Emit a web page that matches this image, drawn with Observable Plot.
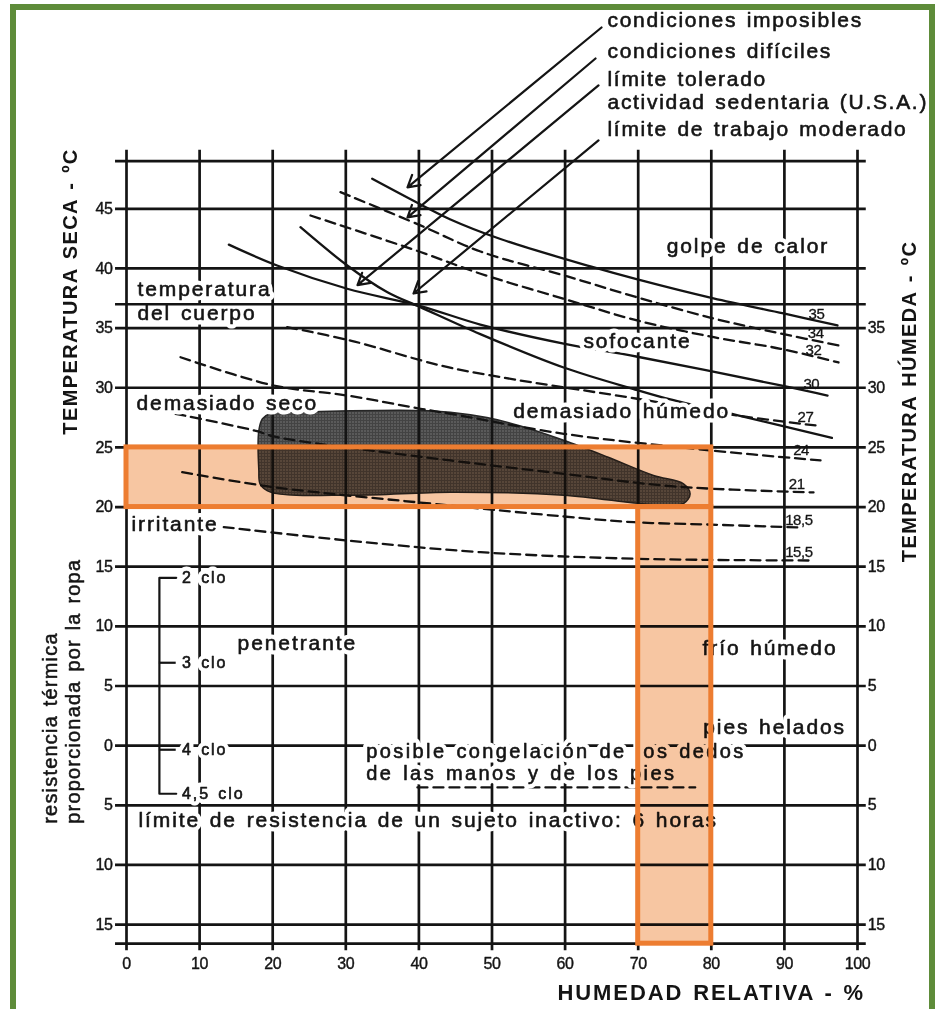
<!DOCTYPE html>
<html><head><meta charset="utf-8">
<script src="https://cdn.jsdelivr.net/npm/d3@7"></script>
<script src="https://cdn.jsdelivr.net/npm/@observablehq/plot@0.6"></script>
<style>
html,body{margin:0;padding:0;background:#fff;overflow:hidden;}
#wrap{position:relative;width:937px;height:1009px;overflow:hidden;}
#frame{position:absolute;left:10px;top:4px;width:925px;height:1100px;border:6px solid #5e8c3a;box-sizing:border-box;pointer-events:none;}
</style></head><body><div id="wrap"><div id="chart"></div><div id="frame"></div></div>
<script>
// ---- axes / grid ----
const rhTicks = [0,10,20,30,40,50,60,70,80,90,100];
const tempGrid = [45,40,35,30,25,20,15,10,5,0,-5,-10,-15];
const frameY = [49,-16.6];
const bodyTemp = [37];
const leftTicks = [45,40,35,30,25,20,15,10,5,0,-5,-10,-15];
const rightTicks = [35,30,25,20,15,10,5,0,-5,-10,-15];

// ---- solid limit curves [RH %, dry temp ºC] ----
const limitA = [[33.61,47.52],[40.22,45.37],[44.32,44.11],[51.16,42.47],[63.47,40.17],[69.90,39.08],[80.30,37.49],[89.88,36.23],[97.26,35.22]];
const limitB = [[23.8,43.46],[30.2,40.25],[35.7,38.0],[40.2,36.76],[48.4,34.5],[59.8,31.7],[69.9,29.8],[74.4,29.02],[83.5,27.7],[96.5,25.8]];
const limitC = [[14.0,42.0],[20.6,40.25],[30.2,38.3],[40.2,36.85],[48.4,35.3],[59.8,33.7],[69.9,32.6],[89.5,30.2],[95.9,29.35]];

// ---- dashed wet-bulb curves ----
const wetA = [[29.27,46.40],[40.22,43.61],[48.43,41.42],[60.33,39.33],[69.90,37.57],[80.30,35.81],[89.47,34.55],[98.09,33.46]];
const wetB = [[25.17,44.44],[40.22,41.38],[48.43,39.56],[59.82,37.46],[69.86,35.64],[80.34,34.24],[89.47,33.27],[97.40,32.12]];
const wet27 = [[21.98,35.08],[30.64,33.96],[42.95,31.87],[51.16,30.89],[69.86,29.08],[83.45,27.68],[94.25,26.84]];
const wet24 = [[7.39,32.56],[20.15,30.19],[30.19,29.35],[40.22,28.24],[44.32,27.82],[59.82,26.14],[79.89,24.75],[94.94,23.91]];
const wet21 = [[6.70,27.82],[17.88,26.36],[20.11,25.92],[44.32,23.91],[59.82,22.79],[74.87,21.73],[93.98,21.23]];
const wet185 = [[7.62,22.93],[20.15,21.67],[44.32,20.13],[59.82,19.21],[69.40,18.73],[79.44,18.54],[92.20,18.29]];
const wet155 = [[13.31,18.32],[30.19,17.20],[48.43,16.22],[69.40,15.67],[93.98,15.52]];
const wetLabel = ["35","34","32","30","27","24","21","18,5","15,5"];
const wetLabelX = [93.3,93.2,92.9,92.6,91.8,91.2,90.6,90.1,90.1];
const wetLabelY = [36.14,34.55,33.13,30.28,27.5,24.75,21.9,18.88,16.2];

// ---- comfort zone outline ----
const comfort = [[18.1,26.4],[18.6,27.4],[19.7,27.85],[23.8,27.95],[27.9,28.04],[40.2,28.1],[44.3,27.95],[49.3,27.5],[53.9,26.8],[59.8,25.6],[65.8,24.2],[72.1,22.65],[76.2,21.95],[77.1,21.1],[76.2,20.3],[72.1,20.2],[59.8,21.0],[44.3,21.25],[31.1,21.0],[19.7,21.25],[18.3,21.9],[18.1,23.1]];

// ---- highlighted band (orange) ----
const bandX1 = [0,70], bandX2 = [80,80], bandY1 = [20,-16.6], bandY2 = [25,20];

// ---- clothing resistance scale ----
const cloText = ["2 clo","3 clo","4 clo","4,5 clo"];
const cloY = [14.07,6.95,-0.34,-4.03];
const cloX = 4.5;

// ---- freezing limit dashed line ----
const freezeLine = [[39.8,-3.5],[77.8,-3.5]];

// ---- zone labels ----
const zoneText = ["golpe de calor","temperatura","del cuerpo","sofocante","demasiado seco","demasiado húmedo","irritante","penetrante","frío húmedo","pies helados","límite de resistencia de un sujeto inactivo: 6 horas"];
const zoneX = [73.9,1.5,1.5,62.5,1.37,52.9,0.68,15.2,78.8,78.9,1.64];
const zoneY = [41.84,38.24,36.23,33.88,28.68,28.0,18.6,8.57,8.15,1.53,-6.27];
const freezeText = ["posible congelación de los dedos","de las manos y de los pies"];
const freezeTextX = 32.8;
const freezeTextY = [-0.5,-2.35];

// ---- top notes with leader arrows ----
const noteText = ["condiciones imposibles","condiciones difíciles","límite tolerado","actividad sedentaria (U.S.A.)","límite de trabajo moderado"];
const noteX = 65.8;
const noteY = [60.79,58.17,55.84,53.91,51.65];
const arrowFrom = [[64.98,60.2],[64.16,57.6],[64.57,55.34],[64.57,50.73]];
const arrowTo = [[38.44,46.8],[38.44,44.28],[31.6,38.6],[39.26,37.9]];

// ---- axis titles ----
const titleX = "HUMEDAD RELATIVA - %";
const titleYLeft = "TEMPERATURA SECA - ºC";
const titleYRight = "TEMPERATURA HÚMEDA - ºC";
const cloTitle = ["resistencia térmica","proporcionada por la ropa"];

const F = "'Liberation Sans', Arial, Helvetica, sans-serif";
const P = a => a.map(([x,y]) => ({x,y}));
const INK = "#141414";
const solid = (d) => Plot.line(P(d), {x:"x", y:"y", curve:"catmull-rom", stroke:INK, strokeWidth:2.3});
const dashed = (d) => Plot.line(P(d), {x:"x", y:"y", curve:"catmull-rom", stroke:INK, strokeWidth:2.3, strokeDasharray:"10,6"});
// label with a white knock-out halo (cuts grid lines like the original print)
const halo = (data, o) => [
  Plot.text(data, {...o, fill:"white", stroke:"white", strokeWidth:9, strokeLinejoin:"round"}),
  Plot.text(data, {...o, fill:INK, stroke:INK, strokeWidth:0.6})
];

const zones = zoneText.map((t,i)=>({t, x:zoneX[i], y:zoneY[i]}));
const freezes = freezeText.map((t,i)=>({t, x:freezeTextX, y:freezeTextY[i]}));
const notes = noteText.map((t,i)=>({t, x:noteX, y:noteY[i]}));
const arrows = arrowFrom.map((a,i)=>({x1:a[0], y1:a[1], x2:arrowTo[i][0], y2:arrowTo[i][1]}));
const wets = wetLabel.map((t,i)=>({t, x:wetLabelX[i], y:wetLabelY[i]}));
const clos = cloText.map((t,i)=>({t, y:cloY[i]}));
const bands = bandX1.map((x1,i)=>({x1, x2:bandX2[i], y1:bandY1[i], y2:bandY2[i]}));

const svg = Plot.plot({
  width: 937, height: 1009,
  marginLeft: 126, marginRight: 80, marginTop: 160.6, marginBottom: 65.8,
  x: {domain:[0,100], axis:null},
  y: {domain:[-16.6,49], axis:null},
  style: {fontFamily: F, fontSize: "16px", background: "white", overflow: "visible", color: INK},
  marks: [
    Plot.line(P(comfort), {x:"x", y:"y", curve:"catmull-rom-closed", fill:"#4a4a4a", stroke:"#262626", strokeWidth:1.5}),
    Plot.ruleX(rhTicks, {y1:-17.2, y2:49.9, stroke:INK, strokeWidth:2.7}),
    Plot.ruleY(tempGrid.concat(frameY), {x1:-1.5, x2:101.2, stroke:INK, strokeWidth:2.7}),
    solid(limitA), solid(limitB), solid(limitC),
    dashed(wetA), dashed(wetB), dashed(wet27), dashed(wet24), dashed(wet21), dashed(wet185), dashed(wet155),
    dashed(freezeLine),
    Plot.line(P([[6.8,cloY[0]],[cloX,cloY[0]],[cloX,cloY[3]],[6.8,cloY[3]]]), {x:"x", y:"y", stroke:INK, strokeWidth:2.2}),
    Plot.ruleY(cloY.slice(1,3), {x1:cloX, x2:6.8, stroke:INK, strokeWidth:2.2}),
    Plot.arrow(arrows, {x1:"x1", y1:"y1", x2:"x2", y2:"y2", stroke:INK, strokeWidth:2.2, headLength:9}),
    ...halo(zones, {x:"x", y:"y", text:"t", textAnchor:"start", fontSize:21}),
    ...halo(freezes, {x:"x", y:"y", text:"t", textAnchor:"start", fontSize:20}),
    ...halo(clos, {x:7.6, y:"y", text:"t", textAnchor:"start", fontSize:16}),
    Plot.text(notes, {x:"x", y:"y", text:"t", textAnchor:"start", fontSize:21, fill:INK, stroke:INK, strokeWidth:0.6}),
    Plot.ruleY(bodyTemp, {x1:-1.5, x2:101.2, stroke:INK, strokeWidth:2.7}),
    Plot.text(wets, {x:"x", y:"y", text:"t", textAnchor:"start", fontSize:15, fill:INK, stroke:INK, strokeWidth:0.3}),
    Plot.text(leftTicks, {x:-1.9, y:d=>d, text:d=>String(Math.abs(d)), textAnchor:"end", fontSize:16, fill:INK, stroke:INK, strokeWidth:0.4}),
    Plot.text(rightTicks, {x:101.4, y:d=>d, text:d=>String(Math.abs(d)), textAnchor:"start", fontSize:16, fill:INK, stroke:INK, strokeWidth:0.4}),
    Plot.text(rhTicks, {x:d=>d, y:-18.3, text:d=>String(d), textAnchor:"middle", fontSize:16, fill:INK, stroke:INK, strokeWidth:0.4}),
    Plot.text([titleX], {x:80.0, y:-20.69, text:d=>d, fontSize:22, fontWeight:"bold", fill:INK}),
    Plot.text([titleYLeft], {x:-7.66, y:38.07, text:d=>d, rotate:-90, fontSize:20, fontWeight:"bold", fill:INK}),
    Plot.text([titleYRight], {x:107.1, y:28.85, text:d=>d, rotate:-90, fontSize:20, fontWeight:"bold", fill:INK}),
    Plot.text(cloTitle, {x:(d,i)=>i===0 ? -10.4 : -7.3, y:-6.55, text:d=>d, rotate:-90, textAnchor:"start", fontSize:20, fill:INK, stroke:INK, strokeWidth:0.5}),
    Plot.rect(bands, {x1:"x1", x2:"x2", y1:"y1", y2:"y2", fill:"#f7c6a2", mixBlendMode:"multiply"}),
    Plot.rect(bands, {x1:"x1", x2:"x2", y1:"y1", y2:"y2", fill:"none", stroke:"#ed7d31", strokeWidth:5})
  ]
});

// stipple texture for the comfort zone
const root = d3.select(svg);
const defs = root.insert("defs", ":first-child");
const pat = defs.append("pattern").attr("id","stipple").attr("width",3).attr("height",3).attr("patternUnits","userSpaceOnUse");
pat.append("rect").attr("width",3).attr("height",3).attr("fill","#434343");
pat.append("rect").attr("x",1).attr("y",1).attr("width",1).attr("height",1).attr("fill","#a0a0a0");
root.selectAll('[fill="#4a4a4a"]').attr("fill","url(#stipple)");
root.selectAll("text").each(function(){
  const t = this.textContent;
  let ls = "1.9";
  if (/^[0-9,]+$/.test(t)) ls = "-0.4";
  else if (t === t.toUpperCase()) ls = (t === titleX ? "1.9" : "1.4");
  else if (cloTitle.includes(t)) ls = "1.2";
  else if (freezeText.includes(t)) ls = "2.4";
  else if (noteText.includes(t)) ls = "1.7";
  this.setAttribute("letter-spacing", ls);
  if (!/^[0-9,]+$/.test(t)) this.setAttribute("word-spacing","2");
});
document.getElementById("chart").appendChild(svg);
</script></body></html>
